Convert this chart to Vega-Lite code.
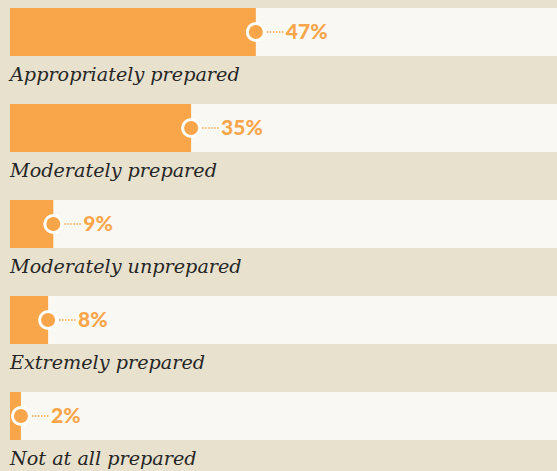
{
  "$schema": "https://vega.github.io/schema/vega-lite/v6.json",
  "width": 547,
  "height": 480,
  "autosize": {"type": "none"},
  "padding": {"left": 10, "top": 0, "right": 0, "bottom": 0},
  "background": "#e8e1cd",
  "config": {"view": {"stroke": null}},
  "data": {
    "values": [
      {"answer": "Appropriately prepared", "value": 47.1, "label": "47%"},
      {"answer": "Moderately prepared", "value": 34.7, "label": "35%"},
      {"answer": "Moderately unprepared", "value": 8.3, "label": "9%"},
      {"answer": "Extremely prepared", "value": 7.3, "label": "8%"},
      {"answer": "Not at all prepared", "value": 2.1, "label": "2%"}
    ]
  },
  "encoding": {
    "y": {
      "field": "answer",
      "type": "nominal",
      "sort": null,
      "scale": {"paddingInner": 0, "paddingOuter": 0},
      "axis": null
    }
  },
  "layer": [
    {
      "mark": {"type": "bar", "height": 48, "yOffset": -16, "color": "#faf8f3", "cornerRadius": 0},
      "encoding": {
        "x": {"datum": 0, "type": "quantitative", "scale": {"domain": [0, 104.8], "nice": false, "zero": true}, "axis": null},
        "x2": {"datum": 104.8}
      }
    },
    {
      "mark": {"type": "bar", "height": 48, "yOffset": -16, "color": "#f9a64b"},
      "encoding": {
        "x": {"field": "value", "type": "quantitative"}
      }
    },
    {
      "mark": {"type": "rule", "yOffset": -16, "xOffset": 11, "x2Offset": 29, "color": "#f9a64b", "strokeWidth": 1.5, "strokeDash": [1.5, 1.5]},
      "encoding": {
        "x": {"field": "value", "type": "quantitative"},
        "x2": {"field": "value"}
      }
    },
    {
      "mark": {"type": "point", "filled": true, "yOffset": -16, "size": 290, "fill": "#f9a64b", "stroke": "#ffffff", "strokeWidth": 3, "opacity": 1},
      "encoding": {
        "x": {"field": "value", "type": "quantitative"}
      }
    },
    {
      "mark": {"type": "text", "align": "left", "baseline": "middle", "xOffset": 30, "yOffset": -15, "font": "Lato", "fontWeight": 900, "fontSize": 21, "color": "#f9a64b"},
      "encoding": {
        "x": {"field": "value", "type": "quantitative"},
        "text": {"field": "label"}
      }
    },
    {
      "mark": {"type": "text", "align": "left", "baseline": "alphabetic", "yOffset": 33, "font": "DejaVu Serif", "fontStyle": "italic", "fontSize": 19.2, "color": "#262626"},
      "encoding": {
        "x": {"datum": 0, "type": "quantitative"},
        "text": {"field": "answer"}
      }
    }
  ]
}
